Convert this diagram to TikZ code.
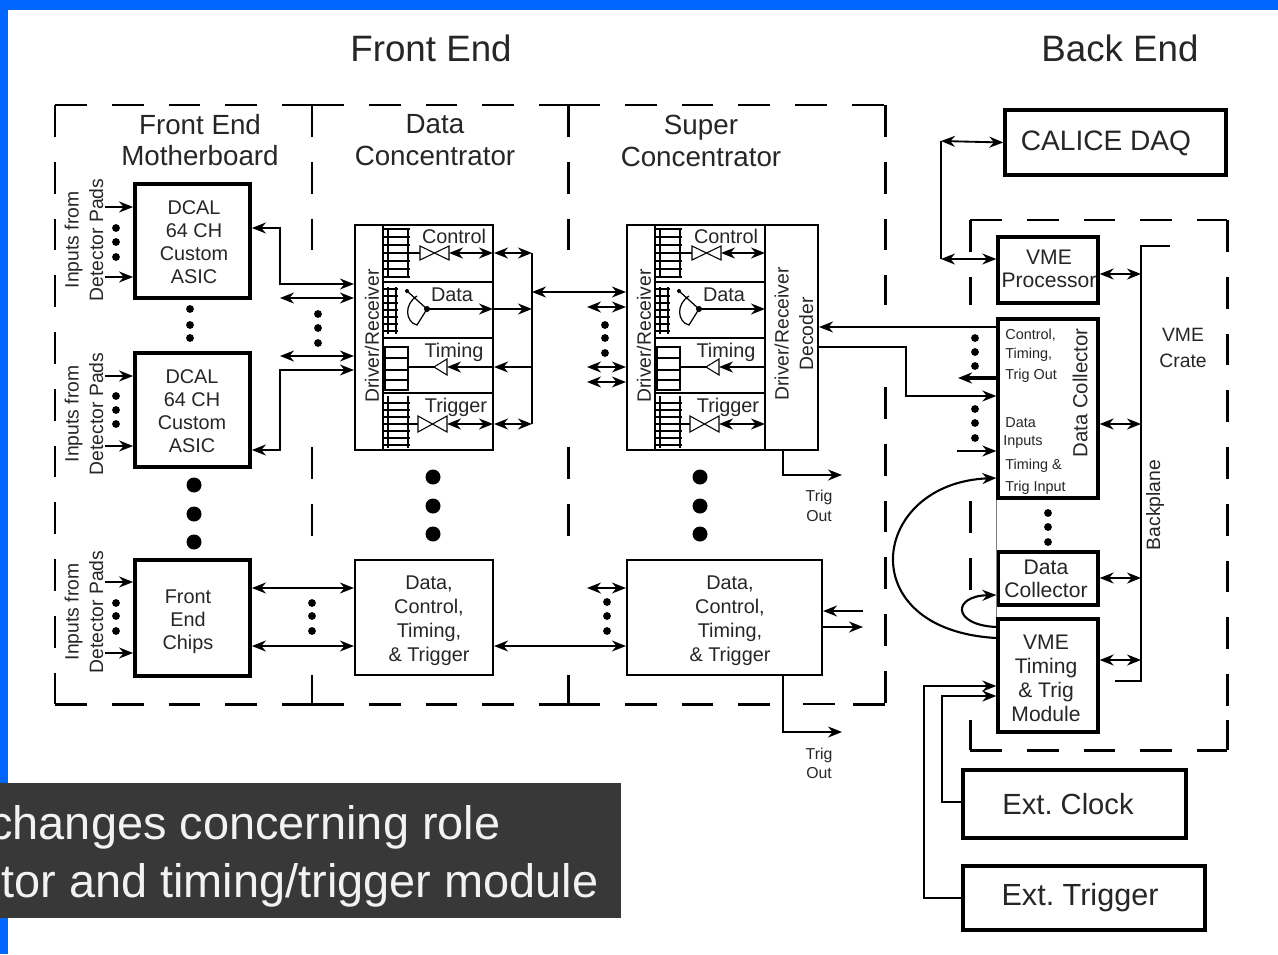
\documentclass[tikz,border=0pt]{standalone}
\usepackage{fontspec}
\setmainfont{Liberation Sans}
\usepackage{tikz}
\usetikzlibrary{arrows.meta,fit}

\definecolor{frameblue}{RGB}{0,102,255}
\definecolor{capdark}{RGB}{56,56,56}

\begin{document}
\frenchspacing
\begin{tikzpicture}[
  x=0.02cm, y=-0.02cm,
  wire/.style={line width=1.05pt, black},
  meas/.style={wire, -{Stealth[length=2.8mm, width=2.2mm]}},
  both/.style={wire, {Stealth[length=2.8mm, width=2.2mm]}-{Stealth[length=2.8mm, width=2.2mm]}},
  bound/.style={line width=1.7pt, dash pattern=on 18.1pt off 14.2pt},
  thinbox/.style={draw, line width=1.2pt, inner sep=0pt, align=center},
  thickbox/.style={draw, line width=2.2pt, inner sep=0pt, align=center},
  rung/.style={line width=1.05pt},
  title/.style={font=\fontsize{20.9}{24}\selectfont, text=black!85},
  head/.style={font=\fontsize{15.8}{18}\selectfont, text=black!85, align=center},
  lab/.style={font=\fontsize{11.3}{13}\selectfont, text=black!85, align=center},
  midlab/.style={font=\fontsize{12}{13.4}\selectfont, text=black!85, align=center},
  biglab/.style={font=\fontsize{16.6}{20}\selectfont, text=black!85},
  tag/.style={font=\fontsize{8.2}{10}\selectfont, text=black!85, anchor=west, inner sep=0pt},
  trigtag/.style={font=\fontsize{9}{11}\selectfont, text=black!85, align=center}
]
  \useasboundingbox (0,0) rectangle (1278,954);
  % --- slide background --------------------------------------------------
  \fill[white] (0,0) rectangle (1278,954);
  \fill[frameblue] (0,0) rectangle (1278,10);
  \fill[frameblue] (0,0) rectangle (8,954);

  % --- headings -----------------------------------------------------------
  \node[title] (fronttitle) at (431,48) {Front End};
  \node[title] (backtitle) at (1120,48) {Back End};
  \node[head] (mboardhead) at (200,140) {Front End\\Motherboard};
  \node[head] (dchead) at (435,140) {Data\\Concentrator};
  \node[head] (schead) at (701,141) {Super\\Concentrator};

  % --- dashed enclosures, gaps where the links pass ------------------------
  \foreach \xa/\xb in {55/312,312/568,568/885}
    \draw[bound] (\xa,105) -- (\xb,105);
  \foreach \xa/\xb in {55/312,312/568,568/772,853/885}
    \draw[bound] (\xa,704) -- (\xb,704);
  \draw[line width=0.8pt] (803,704) -- (835,704);
  \draw[bound] (55,105) -- (55,704);
  \foreach \xx in {312,568} {
    \draw[bound] (\xx,105) -- (\xx,251);
    \draw[bound] (\xx,447) -- (\xx,536);
    \draw[bound] (\xx,675) -- (\xx,704);
  }
  \draw[bound] (885,105) -- (885,305);
  \draw[bound] (885,387) -- (885,704);
  \draw[bound] (970,220) -- (1227,220);
  \draw[bound] (970,750) -- (1227,750);
  \draw[bound] (970,220) -- (970,305);
  \draw[bound] (970,501) -- (970,592);
  \draw[bound] (970,720) -- (970,750);
  \draw[bound] (1227,220) -- (1227,706);
  \draw[bound] (1227,720) -- (1227,750);

  % --- front end boxes ----------------------------------------------------
  \node[thickbox, lab, fit={(135,184) (250,298)}] (asicA) {};
  \node[lab] (asicAtxt) at (194,242) {DCAL\\64 CH\\Custom\\ASIC};
  \node[thickbox, lab, fit={(135,353) (250,467)}] (asicB) {};
  \node[lab] (asicBtxt) at (192,411) {DCAL\\64 CH\\Custom\\ASIC};
  \node[thickbox, lab, fit={(135,560) (250,676)}] (chips) {};
  \node[lab] (chipstxt) at (188,622) {Front\\End\\Chips};
  \node[thinbox, fit={(355,225) (493,450)}] (dc) {};
  \node[thinbox, fit={(627,225) (818,450)}] (sc) {};
  \node[thinbox, fit={(355,560) (493,675)}] (dclow) {};
  \node[lab, font=\fontsize{11.3}{13.6}\selectfont] (dclowtxt) at (429,621) {Data,\\Control,\\Timing,\\\& Trigger};
  \node[thinbox, fit={(627,560) (822,675)}] (sclow) {};
  \node[lab, font=\fontsize{11.3}{13.6}\selectfont] (sclowtxt) at (730,621) {Data,\\Control,\\Timing,\\\& Trigger};

  % --- detector inputs ----------------------------------------------------
  \node[lab, rotate=90, font=\fontsize{11}{14}\selectfont] (padsA) at (84,240) {Inputs from\\Detector Pads};
  \node[lab, rotate=90, font=\fontsize{11}{14}\selectfont] (padsB) at (84,414) {Inputs from\\Detector Pads};
  \node[lab, rotate=90, font=\fontsize{11}{14}\selectfont] (padsC) at (84,612) {Inputs from\\Detector Pads};
  \foreach \yy/\dest in {207/asicA,277/asicA,376/asicB,446/asicB,582/chips,653/chips} {
    \coordinate (in\yy) at (105,\yy);
    \draw[meas] (in\yy) -- (\dest.west |- in\yy);
  }

  % --- concentrator internals, same for both -------------------------------
  \foreach \cx in {0,272} {
    \begin{scope}[shift={(\cx,0)}]
      \draw[line width=1.4pt] (383,225) -- (383,450);
      \draw[line width=1.1pt] (383,282) -- (493,282);
      \draw[line width=1.1pt] (383,338) -- (493,338);
      \draw[line width=1.6pt] (383,393) -- (493,393);
      \node[lab, rotate=90, font=\fontsize{11}{13}\selectfont] (drv\cx) at (372,336) {Driver/Receiver};
      \node[lab] (ctrl\cx) at (454,236) {Control};
      \node[lab] (data\cx) at (452,295) {Data};
      \node[lab] (timing\cx) at (454,352) {Timing};
      \node[lab] (trigger\cx) at (456,407) {Trigger};
      \coordinate (rail) at (493,0);
      % control register and gate
      \foreach \yy in {229,237,...,277} \draw[rung] (383,\yy) -- (410,\yy);
      \draw[rung] (388,228) -- (388,278);
      \draw[rung] (408,228) -- (408,278);
      \draw[wire] (408,253) -- (420,253);
      \draw[line width=0.6pt] (420,246) -- (420,260) -- (449,246) -- (449,260) -- cycle;
      \coordinate (ctlgate) at (449,253);
      \draw[both] (ctlgate) -- (ctlgate -| rail);
      % data register and gate
      \foreach \yy in {289,296,...,331} \draw[rung] (383,\yy) -- (398,\yy);
      \draw[rung] (388,287) -- (388,334);
      \draw[rung] (396,287) -- (396,334);
      \fill (407,291) circle (2);
      \draw[line width=0.7pt] (407,291) -- (427,309) -- (417,325) .. controls (405,322) and (404,304) .. (417,296);
      \coordinate (datgate) at (427,309);
      \fill (datgate) circle (3);
      \draw[meas] (datgate) -- (datgate -| rail);
      % timing register and buffer
      \draw[rung] (385,347) rectangle (408,390);
      \foreach \yy in {358,370,380} \draw[rung] (385,\yy) -- (408,\yy);
      \draw[wire] (408,367) -- (434,367);
      \draw[line width=0.6pt] (434,367) -- (447,359) -- (447,375) -- cycle;
      \coordinate (timgate) at (447,367);
      \draw[meas] (timgate -| rail) -- (timgate);
      % trigger register and gate
      \foreach \yy in {403,410,...,445} \draw[rung] (383,\yy) -- (410,\yy);
      \draw[rung] (388,396) -- (388,448);
      \draw[rung] (408,396) -- (408,448);
      \draw[wire] (408,424) -- (418,424);
      \draw[line width=0.6pt] (418,416) -- (418,432) -- (447,416) -- (447,432) -- cycle;
      \coordinate (trggate) at (447,424);
      \draw[both] (trggate) -- (trggate -| rail);
    \end{scope}
  }
  \draw[line width=1.2pt] (765,225) -- (765,450);
  \node[lab, rotate=90, font=\fontsize{11}{14}\selectfont] (scdrv) at (794,334) {Driver/Receiver\\Decoder};

  % --- motherboard to data concentrator -----------------------------------
  \coordinate (fwdA) at (280,284);
  \coordinate (fwdB) at (280,370);
  \coordinate (stubA) at (280,298);
  \coordinate (stubB) at (280,356);
  \draw[both] (asicA.east |- 0,228) -| (fwdA) -- (fwdA -| dc.west);
  \draw[both] (stubA) -- (stubA -| dc.west);
  \draw[both] (stubB) -- (stubB -| dc.west);
  \draw[both] (asicB.east |- 0,450) -| (fwdB) -- (fwdB -| dc.west);
  \draw[both] (chips.east |- 0,588) -- (dclow.west |- 0,588);
  \draw[both] (chips.east |- 0,646) -- (dclow.west |- 0,646);

  % --- data concentrator to super concentrator ----------------------------
  \coordinate (busA) at (532,253);
  \coordinate (busB) at (532,424);
  \draw[wire] (busA) -- (busB);
  \draw[both] (dc.east |- busA) -- (busA);
  \draw[both] (dc.east |- busB) -- (busB);
  \draw[meas] (dc.east |- 0,309) -- (busA |- 0,309);
  \draw[meas] (busA |- 0,367) -- (dc.east |- 0,367);
  \draw[both] (busA |- 0,292) -- (sc.west |- 0,292);
  \foreach \yy in {307,367,382} {
    \coordinate (scin\yy) at (587,\yy);
    \draw[both] (scin\yy) -- (scin\yy -| sc.west);
  }
  \coordinate (scin588) at (587,588);
  \draw[both] (scin588) -- (scin588 -| sclow.west);
  \draw[both] (dclow.east |- 0,646) -- (sclow.west |- 0,646);

  % --- super concentrator outputs ------------------------------------------
  \coordinate (trigoutA) at (842,475);
  \coordinate (trigoutB) at (842,732);
  \draw[meas] (sc.south -| 783,0) |- (trigoutA);
  \draw[meas] (sclow.south -| 783,0) |- (trigoutB);
  \node[trigtag] (trigA) at (819,506) {Trig\\Out};
  \node[trigtag] (trigB) at (819,763) {Trig\\Out};
  \coordinate (lowin) at (863,611);
  \coordinate (lowout) at (863,627);
  \draw[meas] (lowin) -- (lowin -| sclow.east);
  \draw[meas] (lowout -| sclow.east) -- (lowout);

  % --- back end boxes ------------------------------------------------------
  \node[thickbox, fit={(1005,110) (1226,175)}, line width=1.9pt] (daq) {};
  \node[biglab, font=\fontsize{16}{20}\selectfont] (daqtxt) at (1106,143) {CALICE DAQ};
  \node[thickbox, fit={(998,237) (1098,303)}, line width=1.9pt] (proc) {};
  \node[midlab] (proctxt) at (1049,269) {VME\\Processor};
  \node[thickbox, fit={(998,319) (1098,498)}, line width=1.9pt] (coll) {};
  \node[midlab, rotate=90, font=\fontsize{11.6}{14}\selectfont] (colltxt) at (1080,393) {Data Collector};
  \node[tag] (tagctl) at (1005,335) {Control,};
  \node[tag] (tagtim) at (1005,355) {Timing,};
  \node[tag] (tagtrg) at (1005,376) {Trig Out};
  \node[tag] (tagdat) at (1005,423) {Data};
  \node[tag] (taginp) at (1003,442) {Inputs};
  \node[tag] (tagtt) at (1005,466) {Timing \&};
  \node[tag] (tagti) at (1005,488) {Trig Input};
  \node[thickbox, fit={(998,552) (1098,605)}, line width=1.9pt] (collB) {};
  \node[midlab] (collBtxt) at (1046,579) {Data\\Collector};
  \node[thickbox, fit={(998,619) (1098,732)}, line width=1.9pt] (vmet) {};
  \node[midlab, font=\fontsize{12}{13.6}\selectfont] (vmettxt) at (1046,678) {VME\\Timing\\\& Trig\\Module};
  \node[thickbox, fit={(963,770) (1186,838)}, line width=1.9pt] (clock) {};
  \node[biglab] (clocktxt) at (1068,804) {Ext. Clock};
  \node[thickbox, fit={(963,866) (1205,930)}, line width=1.9pt] (extrig) {};
  \node[biglab, font=\fontsize{17.4}{20}\selectfont] (extrigtxt) at (1080,898) {Ext. Trigger};
  \node[midlab, font=\fontsize{11}{14.7}\selectfont] (cratetxt) at (1183,348) {VME\\Crate};
  \node[lab, rotate=90, font=\fontsize{11}{13}\selectfont] (backtxt) at (1155,505) {Backplane};

  % --- back end wiring ------------------------------------------------------
  \coordinate (daqturn) at (941,141);
  \coordinate (procturn) at (941,259);
  \draw[wire] (daqturn) -- (procturn);
  \draw[both] (daqturn) -- (daq.west);
  \draw[both] (procturn) -- (proc.west |- procturn);
  \coordinate (planetop) at (1170,246);
  \coordinate (planelow) at (1115,681);
  \draw[wire] (planetop) -| (1141,681) -- (planelow);
  \foreach \yy/\src in {274/proc,424/coll,578/collB,660/vmet}
    \draw[both] (\src.east |- 0,\yy) -- (1141,\yy);
  \draw[meas] (coll.west |- 0,327) -- (sc.east |- 0,327);
  \coordinate (decturn) at (906,347);
  \draw[meas] (sc.east |- decturn) -- (decturn) |- (coll.west |- 0,396);
  \coordinate (thickend) at (958,378);
  \draw[meas, line width=1.8pt] (coll.west |- thickend) -- (thickend);
  \coordinate (datain) at (957,451);
  \draw[meas] (datain) -- (datain -| coll.west);
  \draw[line width=0.6pt, gray] (coll.south west) -- (vmet.north west);
  \draw[wire, line width=1.2pt, -{Stealth[length=2.8mm, width=2.2mm]}] (vmet.west |- 0,638)
    .. controls (850,630) and (870,483) .. (coll.west |- 0,478);
  \draw[wire, line width=1.2pt, -{Stealth[length=2.8mm, width=2.2mm]}] (vmet.west |- 0,627)
    .. controls (952,625) and (952,596) .. (collB.west |- 0,595);
  \draw[meas] (clock.west |- 0,802) -| (942,696) -- (vmet.west |- 0,696);
  \draw[meas] (extrig.west) -| (924,686) -- (vmet.west |- 0,686);

  % --- dot leaders -----------------------------------------------------------
  \foreach \x/\y in {116/228,116/242,116/257,116/396,116/410,116/424,116/603,116/616,116/631,
      190/309,190/325,190/338,318/314,318/328,318/343,312/603,312/616,312/631,
      605/325,605/338,605/353,607/602,607/616,607/631,
      975/338,975/352,975/366,975/409,975/423,975/438,1048/513,1048/527,1048/542}
    \fill (\x,\y) circle (3.9);
  \foreach \x/\y in {194/485,194/514,194/542,433/477,433/506,433/534,700/477,700/506,700/534}
    \fill (\x,\y) circle (7.5);

  % --- caption bar -----------------------------------------------------------
  \fill[capdark] (0,783) rectangle (621,918);
  \begin{scope}
    \clip (0,783) rectangle (621,918);
    \node[anchor=base west, inner sep=0pt, text=white!95!black, font=\fontsize{26.7}{32}\selectfont] (capA) at (-11,839) {changes concerning role};
    \node[anchor=base west, inner sep=0pt, text=white!95!black, font=\fontsize{26.7}{32}\selectfont] (capB) at (1,897) {tor and timing/trigger module};
  \end{scope}
\end{tikzpicture}
\end{document}
